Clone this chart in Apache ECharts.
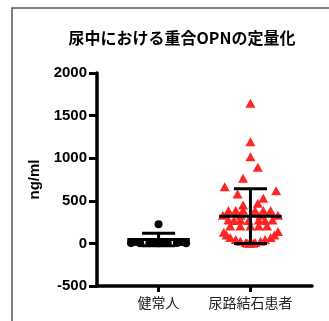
<!DOCTYPE html>
<html><head><meta charset="utf-8">
<script src="https://cdn.jsdelivr.net/npm/echarts@6/dist/echarts.min.js"></script>
<style>html,body{margin:0;padding:0;background:#fff}#c{width:329px;height:321px}</style>
</head><body><div id="c"></div>
<script>
const title = '尿中における重合OPNの定量化';
const categories = ['健常人', '尿路結石患者'];
const yTicks = [-500, 0, 500, 1000, 1500, 2000];
// group 1 (healthy): x jitter offset (in category units) and value
const g1Offset = [0, -0.30, -0.20, -0.10, 0, 0.10, 0.20, 0.30, -0.25, -0.05, 0.05, 0.25];
const g1Values = [224, 5, 3, 6, 2, 4, 6, 3, 15, 12, 14, 16];
// group 2 (stone patients)
const g2Offset = [0, 0, 0, 0.08, -0.08, -0.28, 0.28, -0.14, 0.14, 0.08, -0.08,
  -0.24, -0.16, -0.08, 0.05, 0.14, 0.22,
  -0.30, -0.11, 0.11, 0.30,
  -0.24, -0.18, -0.11, -0.02, 0.09, 0.16, 0.24,
  -0.22, -0.11, 0, 0.09, 0.18,
  -0.29, -0.26, -0.22, -0.16, -0.11, -0.05, 0, 0.05, 0.11, 0.16, 0.22, 0.26, 0.30, -0.03, 0.03];
const g2Values = [1644, 1194, 1018, 893, 764, 666, 619, 580, 529, 470, 450,
  385, 385, 390, 385, 385, 385,
  330, 330, 330, 330,
  275, 270, 275, 270, 275, 270, 275,
  205, 205, 205, 205, 205,
  130, 100, 70, 45, 25, 10, 5, 10, 25, 45, 70, 100, 140, 3, 3];
const means = [45, 320];
const sds = [73, 320];

const chart = echarts.init(document.getElementById('c'));
const pts1 = g1Values.map((v, i) => [1 + g1Offset[i], v]);
const pts2 = g2Values.map((v, i) => [2 + g2Offset[i], v]);
const errData = means.map((m, i) => [i + 1, m, sds[i]]);

chart.setOption({
  animation: false,
  title: {
    text: title, left: 177, top: 25, textAlign: 'center',
    textStyle: {fontFamily: 'Noto Sans CJK JP', fontWeight: 'bold', fontSize: 16, color: '#000'}
  },
  graphic: [
    {type: 'polyline', shape: {points: [[12, 321], [12, 8], [329, 8]]}, style: {stroke: '#555', lineWidth: 1.5, fill: null}}
  ],
  grid: {left: 97, right: 17, top: 73, bottom: 35},
  xAxis: {
    type: 'value', min: 0.33, max: 2.67,
    splitLine: {show: false},
    axisLine: {onZero: false, lineStyle: {color: '#000', width: 3.5}},
    axisTick: {show: true, customValues: [1, 2], length: 6, lineStyle: {color: '#000', width: 3}},
    axisLabel: {customValues: [1, 2], formatter: v => categories[Math.round(v) - 1] || '',
      fontFamily: 'Noto Sans CJK JP', fontSize: 14, color: '#222', margin: 10}
  },
  yAxis: {
    type: 'value', min: -500, max: 2000, interval: 500,
    name: 'ng/ml', nameLocation: 'middle', nameGap: 46, nameRotate: 90,
    nameTextStyle: {fontFamily: 'Liberation Sans', fontWeight: 'bold', fontSize: 15, color: '#000'},
    splitLine: {show: false},
    axisLine: {show: true, onZero: false, lineStyle: {color: '#000', width: 3.5}},
    axisTick: {show: true, length: 8, lineStyle: {color: '#000', width: 3}},
    axisLabel: {formatter: v => String(v), fontFamily: 'Liberation Sans', fontWeight: 'bold', fontSize: 15, color: '#000', margin: 10}
  },
  series: [
    {type: 'scatter', data: pts1, symbol: 'circle', symbolSize: 8, itemStyle: {color: '#000', opacity: 1}, z: 3},
    {type: 'scatter', data: pts2, symbol: 'triangle', symbolSize: [10, 9], itemStyle: {color: '#ff2525', opacity: 1}, z: 3},
    {type: 'custom', data: errData, z: 5,
      renderItem: function (params, api) {
        const x = api.value(0), m = api.value(1), s = api.value(2);
        const c = api.coord([x, m]);
        const top = api.coord([x, m + s]);
        const bot = api.coord([x, m - s]);
        const unit = api.size([1, 0])[0];
        const mw = 0.34 * unit, cw = 0.18 * unit;
        const st = {stroke: '#000', lineWidth: 3};
        return {type: 'group', children: [
          {type: 'line', shape: {x1: c[0] - mw, y1: c[1], x2: c[0] + mw, y2: c[1]}, style: st},
          {type: 'line', shape: {x1: c[0], y1: top[1], x2: c[0], y2: bot[1]}, style: st},
          {type: 'line', shape: {x1: c[0] - cw, y1: top[1], x2: c[0] + cw, y2: top[1]}, style: st},
          {type: 'line', shape: {x1: c[0] - cw, y1: bot[1], x2: c[0] + cw, y2: bot[1]}, style: st}
        ]};
      }
    }
  ]
});
</script></body></html>
